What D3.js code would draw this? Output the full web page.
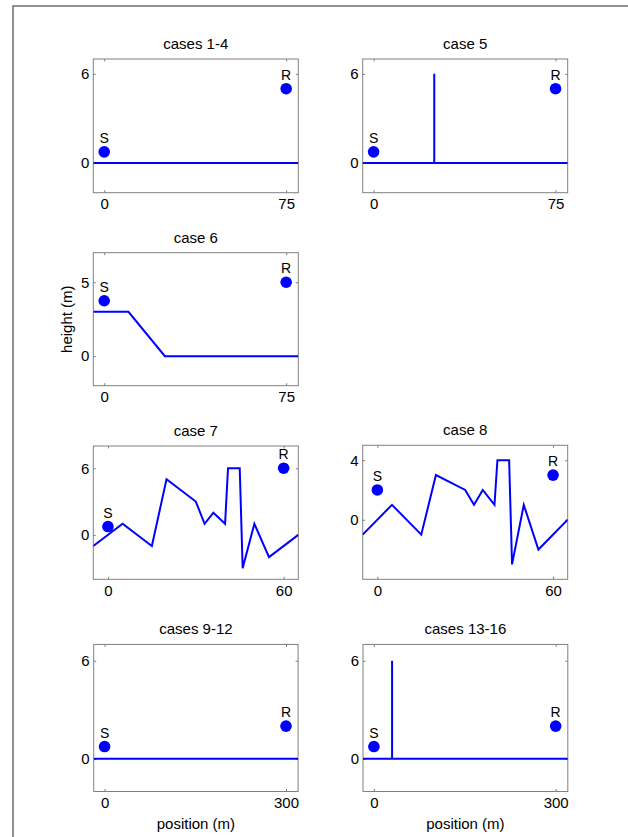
<html lang="en">
<head>
  <meta charset="UTF-8">
  <title>Terrain cases</title>
  <script src="https://d3js.org/d3.v7.min.js"></script>
  <style>
    body { margin: 0; background: white; }
    svg { font-family: "Liberation Sans", Arial, sans-serif; }
  </style>
</head>
<body>
<svg id="chart" width="628" height="837"></svg>
<script>
// panel data (metres)
const titles = ["cases 1-4", "case 5", "case 6", "case 7", "case 8", "cases 9-12", "cases 13-16"];
const xDomains = [[-4.5, 80], [-4.5, 80], [-4.5, 80], [-5, 65], [-5, 65], [-18, 320], [-18, 320]];
const yDomains = [[-2, 7], [-2, 7], [-2, 7], [-4, 8], [-4, 5], [-2, 7], [-2, 7]];
const xTicks = [[0, 75], [0, 75], [0, 75], [0, 60], [0, 60], [0, 300], [0, 300]];
const yTicks = [[0, 6], [0, 6], [0, 5], [0, 6], [0, 4], [0, 6], [0, 6]];

const groundX = [
  [-4.5, 80],
  [-4.5, 25, 25, 25, 80],
  [-4.5, 10, 25, 80],
  [-5, 5, 15, 20, 30, 33, 36, 40, 41, 45, 46, 50, 55, 65],
  [-5, 5, 15, 20, 30, 33, 36, 40, 41, 45, 46, 50, 55, 65],
  [-18, 320],
  [-18, 30, 30, 30, 320]
];
const groundY = [
  [0, 0],
  [0, 0, 6, 0, 0],
  [3, 3, 0, 0],
  [-1, 1, -1, 5, 3, 1, 2, 1, 6, 6, -3, 1, -2, 0],
  [-1, 1, -1, 3, 2, 1, 2, 1, 4, 4, -3, 1, -2, 0],
  [0, 0],
  [0, 0, 6, 0, 0]
];
const sourceX = [0, 0, 0, 0, 0, 0, 0];
const sourceY = [0.75, 0.75, 3.75, 0.75, 2, 0.75, 0.75];
const receiverX = [75, 75, 75, 60, 60, 300, 300];
const receiverY = [5, 5, 5, 6, 3, 2, 2];

// panel boxes: left, top, width, height
const boxes = [
  [93.3, 59, 205, 133.7],
  [362.7, 59, 205, 133.7],
  [93.3, 252.7, 205, 133],
  [93.3, 446, 205, 133.3],
  [362.7, 445.3, 205, 134],
  [93.7, 644.4, 204.4, 147.1],
  [363, 644.4, 204.8, 147.1]
];

const svg = d3.select('#chart');
const blue = '#0000ff';

// outer frame (only left and top edges are visible)
svg.append('path')
  .attr('d', 'M13,837 L13,6 L628,6')
  .attr('fill', 'none')
  .attr('stroke', '#6e6e6e')
  .attr('stroke-width', 1.5);

titles.forEach((title, i) => {
  const [left, top, w, h] = boxes[i];
  const x = d3.scaleLinear().domain(xDomains[i]).range([0, w]);
  const y = d3.scaleLinear().domain(yDomains[i]).range([h, 0]);
  const g = svg.append('g').attr('transform', `translate(${left},${top})`);

  g.append('clipPath').attr('id', 'clip' + i)
    .append('rect').attr('width', w).attr('height', h);

  // ticks inside on all four sides
  const tick = 2.5;
  const tickStyle = sel => sel.call(s => s.select('.domain').remove())
    .call(s => s.selectAll('line').attr('stroke', '#808080'));
  g.append('g').attr('transform', `translate(0,${h})`)
    .call(d3.axisBottom(x).tickValues(xTicks[i]).tickSizeInner(-tick).tickSizeOuter(0).tickPadding(6))
    .call(tickStyle)
    .call(s => s.selectAll('text').attr('font-size', 15).attr('fill', '#000').attr('font-family', null));
  g.append('g')
    .call(d3.axisTop(x).tickValues(xTicks[i]).tickSizeInner(-tick).tickSizeOuter(0).tickFormat(''))
    .call(tickStyle);
  g.append('g')
    .call(d3.axisLeft(y).tickValues(yTicks[i]).tickSizeInner(-tick).tickSizeOuter(0).tickPadding(4))
    .call(tickStyle)
    .call(s => s.selectAll('text').attr('font-size', 15).attr('fill', '#000').attr('font-family', null));
  g.append('g').attr('transform', `translate(${w},0)`)
    .call(d3.axisRight(y).tickValues(yTicks[i]).tickSizeInner(-tick).tickSizeOuter(0).tickFormat(''))
    .call(tickStyle);

  // box
  g.append('rect')
    .attr('width', w).attr('height', h)
    .attr('fill', 'none').attr('stroke', '#808080').attr('stroke-width', 1);

  // terrain
  const pts = groundX[i].map((gx, k) => [gx, groundY[i][k]]);
  g.append('path')
    .attr('clip-path', `url(#clip${i})`)
    .attr('d', d3.line().x(d => x(d[0])).y(d => y(d[1]))(pts))
    .attr('fill', 'none')
    .attr('stroke', blue)
    .attr('stroke-width', 2)
    .attr('stroke-linejoin', 'miter');

  // source and receiver
  const marks = [['S', sourceX[i], sourceY[i]], ['R', receiverX[i], receiverY[i]]];
  marks.forEach(([label, mx, my]) => {
    g.append('circle')
      .attr('cx', x(mx)).attr('cy', y(my)).attr('r', 5.8)
      .attr('fill', blue);
    g.append('text')
      .attr('x', x(mx)).attr('y', y(my) - 9)
      .attr('text-anchor', 'middle')
      .attr('font-size', 14)
      .text(label);
  });

  // title
  g.append('text')
    .attr('x', w / 2).attr('y', -10)
    .attr('text-anchor', 'middle')
    .attr('font-size', 15)
    .text(title);

  if (i >= 5) {
    g.append('text')
      .attr('x', w / 2).attr('y', h + 38)
      .attr('text-anchor', 'middle')
      .attr('font-size', 15)
      .text('position (m)');
  }
  if (i === 2) {
    g.append('text')
      .attr('transform', `translate(${72 - left},${h / 2}) rotate(-90)`)
      .attr('text-anchor', 'middle')
      .attr('font-size', 15)
      .text('height (m)');
  }
});
</script>
</body>
</html>
